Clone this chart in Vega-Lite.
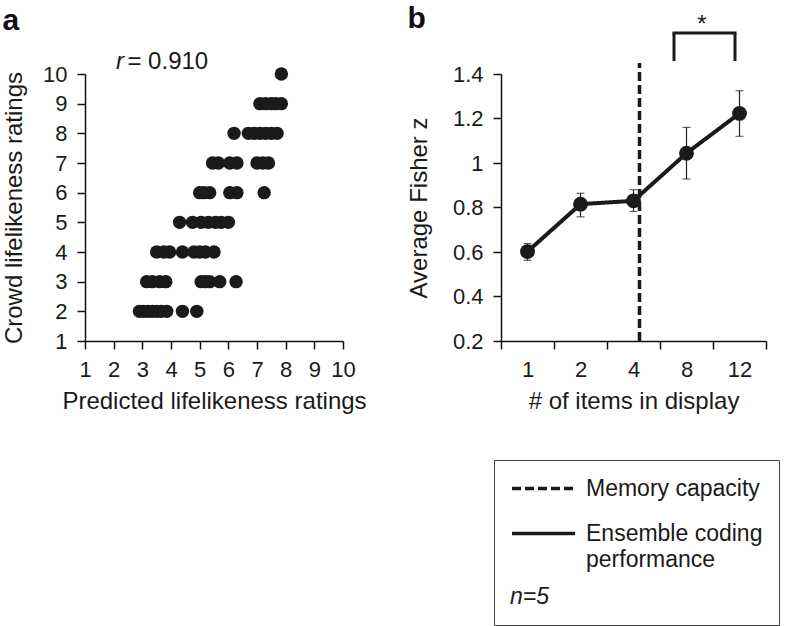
{
  "$schema": "https://vega.github.io/schema/vega-lite/v6.json",
  "padding": {"left": 2, "top": 3, "right": 0, "bottom": 0},
  "background": "white",
  "bounds": "flush",
  "spacing": 158,
  "resolve": {"scale": {"strokeDash": "independent"}, "legend": {"strokeDash": "independent"}},
  "config": {
    "font": "Liberation Sans",
    "view": {"stroke": null},
    "axis": {"domainColor": "#111", "domainWidth": 1.5, "tickColor": "#111", "tickWidth": 1.5, "tickSize": 8, "labelFontSize": 22, "labelColor": "#1a1a1a", "titleFontSize": 24, "titleFontWeight": "normal", "titleColor": "#1a1a1a", "grid": false, "labelPadding": 10, "labelOverlap": false, "labelFlush": false},
    "title": {"fontSize": 30, "fontWeight": "bold", "anchor": "start", "frame": "bounds", "color": "#111"}
  },
  "hconcat": [
    {
      "width": 258,
      "height": 267,
      "title": {"text": "a", "offset": 14},
      "layer": [
        {
          "data": {"values": [
            {"predicted": 2.9, "crowd": 2}, {"predicted": 3.05, "crowd": 2}, {"predicted": 3.2, "crowd": 2}, {"predicted": 3.35, "crowd": 2}, {"predicted": 3.5, "crowd": 2}, {"predicted": 3.65, "crowd": 2}, {"predicted": 3.85, "crowd": 2}, {"predicted": 4.4, "crowd": 2}, {"predicted": 4.9, "crowd": 2},
            {"predicted": 3.15, "crowd": 3}, {"predicted": 3.35, "crowd": 3}, {"predicted": 3.6, "crowd": 3}, {"predicted": 3.82, "crowd": 3}, {"predicted": 5.05, "crowd": 3}, {"predicted": 5.2, "crowd": 3}, {"predicted": 5.35, "crowd": 3}, {"predicted": 5.7, "crowd": 3}, {"predicted": 6.27, "crowd": 3},
            {"predicted": 3.5, "crowd": 4}, {"predicted": 3.75, "crowd": 4}, {"predicted": 3.95, "crowd": 4}, {"predicted": 4.4, "crowd": 4}, {"predicted": 4.8, "crowd": 4}, {"predicted": 5.0, "crowd": 4}, {"predicted": 5.2, "crowd": 4}, {"predicted": 5.5, "crowd": 4},
            {"predicted": 4.3, "crowd": 5}, {"predicted": 4.75, "crowd": 5}, {"predicted": 5.05, "crowd": 5}, {"predicted": 5.3, "crowd": 5}, {"predicted": 5.55, "crowd": 5}, {"predicted": 5.75, "crowd": 5}, {"predicted": 6.0, "crowd": 5},
            {"predicted": 5.0, "crowd": 6}, {"predicted": 5.15, "crowd": 6}, {"predicted": 5.35, "crowd": 6}, {"predicted": 6.05, "crowd": 6}, {"predicted": 6.3, "crowd": 6}, {"predicted": 7.25, "crowd": 6},
            {"predicted": 5.45, "crowd": 7}, {"predicted": 5.65, "crowd": 7}, {"predicted": 6.05, "crowd": 7}, {"predicted": 6.3, "crowd": 7}, {"predicted": 7.0, "crowd": 7}, {"predicted": 7.2, "crowd": 7}, {"predicted": 7.4, "crowd": 7},
            {"predicted": 6.2, "crowd": 8}, {"predicted": 6.7, "crowd": 8}, {"predicted": 6.9, "crowd": 8}, {"predicted": 7.1, "crowd": 8}, {"predicted": 7.3, "crowd": 8}, {"predicted": 7.5, "crowd": 8}, {"predicted": 7.7, "crowd": 8},
            {"predicted": 7.1, "crowd": 9}, {"predicted": 7.3, "crowd": 9}, {"predicted": 7.5, "crowd": 9}, {"predicted": 7.65, "crowd": 9}, {"predicted": 7.85, "crowd": 9},
            {"predicted": 7.85, "crowd": 10}
          ]},
          "mark": {"type": "circle", "size": 180, "opacity": 1, "color": "#1a1a1a"},
          "encoding": {
            "x": {"field": "predicted", "type": "quantitative", "scale": {"domain": [1, 10], "nice": false, "zero": false},
                  "axis": {"values": [1, 2, 3, 4, 5, 6, 7, 8, 9, 10], "tickCount": 20, "format": "d", "labelFlush": false, "title": "Predicted lifelikeness ratings", "titlePadding": 9}},
            "y": {"field": "crowd", "type": "quantitative", "scale": {"domain": [1, 10], "nice": false, "zero": false},
                  "axis": {"values": [1, 2, 3, 4, 5, 6, 7, 8, 9, 10], "tickCount": 20, "format": "d", "labelFlush": false, "title": "Crowd lifelikeness ratings", "titlePadding": 16}}
          }
        },
        {
          "data": {"values": [{}]},
          "mark": {"type": "text", "text": "r", "fontStyle": "italic", "fontSize": 24, "align": "left", "baseline": "alphabetic", "color": "#1a1a1a"},
          "encoding": {"x": {"datum": 2.08, "type": "quantitative"}, "y": {"datum": 10.17, "type": "quantitative"}}
        },
        {
          "data": {"values": [{}]},
          "mark": {"type": "text", "text": "= 0.910", "fontSize": 24, "align": "left", "baseline": "alphabetic", "color": "#1a1a1a"},
          "encoding": {"x": {"datum": 2.48, "type": "quantitative"}, "y": {"datum": 10.17, "type": "quantitative"}}
        }
      ]
    },
    {
      "width": 265,
      "height": 267,
      "title": {"text": "b", "offset": -21},
      "layer": [
        {
          "data": {"name": "fz", "values": [
            {"n": "1", "z": 0.602, "lo": 0.563, "hi": 0.638},
            {"n": "2", "z": 0.815, "lo": 0.758, "hi": 0.864},
            {"n": "4", "z": 0.83, "lo": 0.782, "hi": 0.88},
            {"n": "8", "z": 1.044, "lo": 0.928, "hi": 1.16},
            {"n": "12", "z": 1.223, "lo": 1.12, "hi": 1.325}
          ]},
          "layer": [
            {
              "mark": {"type": "rule", "strokeWidth": 1.2, "color": "#222"},
              "encoding": {
                "x": {"field": "n", "type": "ordinal", "sort": ["1", "2", "4", "8", "12"], "scale": {"paddingInner": 0, "paddingOuter": 0},
                      "axis": {"title": "# of items in display", "labelAngle": 0, "tickBand": "extent", "titlePadding": 9}},
                "y": {"field": "lo", "type": "quantitative", "scale": {"domain": [0.2, 1.4], "nice": false, "zero": false},
                      "axis": {"values": [0.2, 0.4, 0.6, 0.8, 1, 1.2, 1.4], "tickCount": 20, "format": "~g", "labelFlush": false, "title": "Average Fisher z", "titlePadding": 21}},
                "y2": {"field": "hi"}
              }
            },
            {
              "mark": {"type": "tick", "size": 8, "thickness": 1.2, "color": "#222"},
              "encoding": {"x": {"field": "n", "type": "ordinal", "sort": ["1", "2", "4", "8", "12"]}, "y": {"field": "lo", "type": "quantitative"}}
            },
            {
              "mark": {"type": "tick", "size": 8, "thickness": 1.2, "color": "#222"},
              "encoding": {"x": {"field": "n", "type": "ordinal", "sort": ["1", "2", "4", "8", "12"]}, "y": {"field": "hi", "type": "quantitative"}}
            },
            {
              "mark": {"type": "line", "strokeWidth": 4, "color": "#1a1a1a"},
              "encoding": {
                "x": {"field": "n", "type": "ordinal", "sort": ["1", "2", "4", "8", "12"]},
                "y": {"field": "z", "type": "quantitative"},
                "strokeDash": {"datum": "Ensemble coding performance", "type": "nominal",
                  "scale": {"domain": ["Memory capacity", "Ensemble coding performance"], "range": [[9, 4], [1, 0]]},
                  "legend": {
                    "orient": "none", "legendX": -7, "legendY": 386,
                    "title": "n=5", "titleOrient": "bottom", "titleAnchor": "start", "titleFontStyle": "italic", "titleFontWeight": "normal", "titleFontSize": 23, "titleColor": "#1a1a1a", "titlePadding": 14,
                    "labelFontSize": 23, "labelColor": "#1a1a1a", "labelOffset": 30, "labelLimit": 320,
                    "symbolType": "M-3,0H3", "symbolSize": 441, "symbolOffset": 21, "symbolStrokeWidth": 3.5, "symbolStrokeColor": "#1a1a1a", "symbolFillColor": "transparent",
                    "strokeColor": "#444", "padding": 16, "rowPadding": 20,
                    "labelExpr": "datum.value == 'Ensemble coding performance' ? ['Ensemble coding', 'performance'] : datum.label",
                    "encode": {"labels": {"update": {"lineHeight": {"value": 26}}}}
                  }
                }
              }
            },
            {
              "mark": {"type": "circle", "size": 220, "opacity": 1, "color": "#1a1a1a"},
              "encoding": {"x": {"field": "n", "type": "ordinal", "sort": ["1", "2", "4", "8", "12"]}, "y": {"field": "z", "type": "quantitative"}}
            }
          ]
        },
        {
          "data": {"values": [{}]},
          "mark": {"type": "rule", "strokeWidth": 3.5, "color": "#1a1a1a", "xOffset": 6},
          "encoding": {
            "x": {"datum": "4", "type": "ordinal"},
            "y": {"datum": 0.2, "type": "quantitative"},
            "y2": {"datum": 1.45},
            "strokeDash": {"datum": "Memory capacity", "type": "nominal"}
          }
        },
        {
          "data": {"values": [{}]},
          "mark": {"type": "rule", "strokeWidth": 3, "color": "#1a1a1a", "xOffset": -12.5},
          "encoding": {"x": {"datum": "8", "type": "ordinal"}, "y": {"datum": 1.458, "type": "quantitative"}, "y2": {"datum": 1.584}}
        },
        {
          "data": {"values": [{}]},
          "mark": {"type": "rule", "strokeWidth": 3, "color": "#1a1a1a", "xOffset": -4.5},
          "encoding": {"x": {"datum": "12", "type": "ordinal"}, "y": {"datum": 1.458, "type": "quantitative"}, "y2": {"datum": 1.584}}
        },
        {
          "data": {"values": [{}]},
          "mark": {"type": "rule", "strokeWidth": 3, "color": "#1a1a1a", "xOffset": -14, "x2Offset": -3},
          "encoding": {"x": {"datum": "8", "type": "ordinal"}, "x2": {"datum": "12"}, "y": {"datum": 1.584, "type": "quantitative"}}
        },
        {
          "data": {"values": [{}]},
          "mark": {"type": "text", "text": "*", "fontSize": 24, "baseline": "alphabetic", "align": "center", "color": "#1a1a1a", "xOffset": 15.5},
          "encoding": {"x": {"datum": "8", "type": "ordinal"}, "y": {"datum": 1.591, "type": "quantitative"}}
        }
      ]
    }
  ]
}
